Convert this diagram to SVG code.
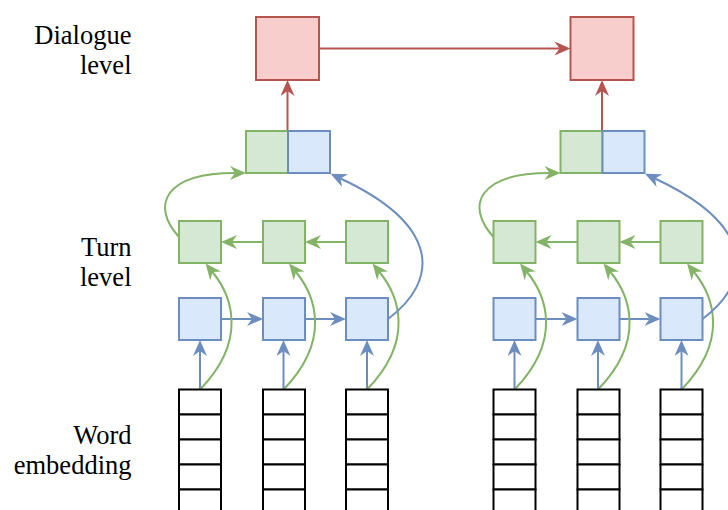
<svg xmlns="http://www.w3.org/2000/svg" width="728" height="510" viewBox="0 0 728 510">
<style>
.g{fill:#d5e8d4;stroke:#82b366;stroke-width:2}
.b{fill:#dae8fc;stroke:#6c8ebf;stroke-width:2}
.r{fill:#f8cecc;stroke:#b85450;stroke-width:2}
.w{fill:#fff;stroke:#000;stroke-width:2}
.cg{fill:none;stroke:#82b366;stroke-width:2;marker-end:url(#ag)}
.cb{fill:none;stroke:#6c8ebf;stroke-width:2;marker-end:url(#ab)}
.cr{fill:none;stroke:#b85450;stroke-width:2;marker-end:url(#ar)}
</style>
<defs>
<marker id="ag" viewBox="0 0 16 14" refX="5" refY="7" markerWidth="16" markerHeight="14" markerUnits="userSpaceOnUse" orient="auto"><path d="M0,0 L16,7 L0,14 L5,7 Z" fill="#82b366"/></marker>
<marker id="ab" viewBox="0 0 16 14" refX="5" refY="7" markerWidth="16" markerHeight="14" markerUnits="userSpaceOnUse" orient="auto"><path d="M0,0 L16,7 L0,14 L5,7 Z" fill="#6c8ebf"/></marker>
<marker id="ar" viewBox="0 0 16 14" refX="5" refY="7" markerWidth="16" markerHeight="14" markerUnits="userSpaceOnUse" orient="auto"><path d="M0,0 L16,7 L0,14 L5,7 Z" fill="#b85450"/></marker>
<g id="stack">
<rect class="w" x="0" y="0" width="42" height="25"/>
<rect class="w" x="0" y="25" width="42" height="25"/>
<rect class="w" x="0" y="50" width="42" height="25"/>
<rect class="w" x="0" y="75" width="42" height="25"/>
<rect class="w" x="0" y="100" width="42" height="25"/>
</g>
<g id="panelLinks">
<path class="cr" d="M287.5,131 L287.5,91"/>
<path class="cb" d="M200,389.5 L200,351"/>
<path class="cb" d="M283.5,389.5 L283.5,351"/>
<path class="cb" d="M367,389.5 L367,351"/>
<path class="cb" d="M221,319 L252,319"/>
<path class="cb" d="M305,319 L335,319"/>
<path class="cg" d="M346,242 L316,242"/>
<path class="cg" d="M263,242 L232,242"/>
<path class="cg" d="M200,389.5 C248,340 232,296 212.5,272"/>
<path class="cg" d="M283.5,389.5 C331.5,340 315.5,296 296,272"/>
<path class="cg" d="M367,389.5 C415,340 399,296 379.5,272"/>
<path class="cg" d="M179,237 C150,205 165,173 235,173"/>
<path class="cb" d="M388,319 C440,280 440,225 340.5,178.5"/>
</g>
</defs>

<g id="labels" font-family="'Liberation Serif', 'DejaVu Serif', serif" font-size="26.5" text-anchor="end" fill="#000">
<text x="131.5" y="44">Dialogue</text>
<text x="131.5" y="74">level</text>
<text x="131.5" y="256">Turn</text>
<text x="131.5" y="286">level</text>
<text x="131.5" y="444">Word</text>
<text x="131.5" y="474">embedding</text>
</g>

<g id="connectors">
<use href="#panelLinks"/>
<use href="#panelLinks" transform="translate(314.5,0)"/>
<path class="cr" d="M319,48.5 L559.5,48.5"/>
</g>

<g id="dialogue1"><rect class="r" x="256" y="17" width="63" height="63"/></g>
<g id="dialogue2"><rect class="r" x="570.5" y="17" width="63" height="63"/></g>

<g id="concat1">
<rect class="g" x="246" y="131" width="42" height="42"/>
<rect class="b" x="288" y="131" width="42" height="42"/>
</g>
<g id="concat2">
<rect class="g" x="560.5" y="131" width="42" height="42"/>
<rect class="b" x="602.5" y="131" width="42" height="42"/>
</g>

<g id="turnG1a"><rect class="g" x="179" y="221" width="42" height="42"/></g>
<g id="turnG1b"><rect class="g" x="263" y="221" width="42" height="42"/></g>
<g id="turnG1c"><rect class="g" x="346" y="221" width="42" height="42"/></g>
<g id="turnG2a"><rect class="g" x="493.5" y="221" width="42" height="42"/></g>
<g id="turnG2b"><rect class="g" x="577.5" y="221" width="42" height="42"/></g>
<g id="turnG2c"><rect class="g" x="660.5" y="221" width="42" height="42"/></g>

<g id="turnB1a"><rect class="b" x="179" y="298" width="42" height="42"/></g>
<g id="turnB1b"><rect class="b" x="263" y="298" width="42" height="42"/></g>
<g id="turnB1c"><rect class="b" x="346" y="298" width="42" height="42"/></g>
<g id="turnB2a"><rect class="b" x="493.5" y="298" width="42" height="42"/></g>
<g id="turnB2b"><rect class="b" x="577.5" y="298" width="42" height="42"/></g>
<g id="turnB2c"><rect class="b" x="660.5" y="298" width="42" height="42"/></g>

<g id="words1a"><use href="#stack" x="179" y="389.5"/></g>
<g id="words1b"><use href="#stack" x="263" y="389.5"/></g>
<g id="words1c"><use href="#stack" x="346" y="389.5"/></g>
<g id="words2a"><use href="#stack" x="493.5" y="389.5"/></g>
<g id="words2b"><use href="#stack" x="577.5" y="389.5"/></g>
<g id="words2c"><use href="#stack" x="660.5" y="389.5"/></g>
</svg>
